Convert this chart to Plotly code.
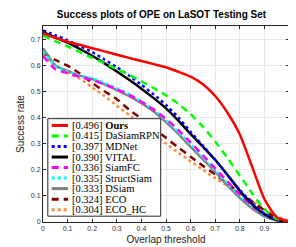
import plotly.graph_objects as go

thresholds = [0, 0.05, 0.1, 0.15, 0.2, 0.25, 0.3, 0.35, 0.4, 0.45, 0.5,
              0.55, 0.6, 0.65, 0.7, 0.75, 0.8, 0.85, 0.9, 0.95, 1.0]

tracker_names = ["Ours", "DaSiamRPN", "MDNet", "VITAL", "SiamFC",
                 "StructSiam", "DSiam", "ECO", "ECO_HC"]
auc_scores = [0.496, 0.415, 0.397, 0.390, 0.336, 0.335, 0.333, 0.324, 0.304]

ours = [0.722, 0.705, 0.690, 0.678, 0.665, 0.653, 0.640, 0.628, 0.616, 0.604, 0.592,
        0.575, 0.556, 0.527, 0.482, 0.418, 0.335, 0.212, 0.088, 0.018, 0.002]
dasiamrpn = [0.713, 0.692, 0.672, 0.650, 0.628, 0.607, 0.585, 0.563, 0.538, 0.512, 0.485,
             0.452, 0.413, 0.365, 0.308, 0.245, 0.178, 0.110, 0.048, 0.012, 0.0]
mdnet = [0.733, 0.715, 0.695, 0.673, 0.650, 0.622, 0.592, 0.560, 0.525, 0.488, 0.448,
         0.400, 0.345, 0.292, 0.238, 0.180, 0.122, 0.072, 0.032, 0.008, 0.0]
vital = [0.726, 0.706, 0.686, 0.662, 0.636, 0.607, 0.576, 0.544, 0.510, 0.474, 0.435,
         0.388, 0.337, 0.288, 0.238, 0.180, 0.120, 0.068, 0.030, 0.008, 0.0]
siamfc = [0.635, 0.585, 0.570, 0.555, 0.543, 0.527, 0.508, 0.486, 0.460, 0.430, 0.395,
          0.352, 0.305, 0.255, 0.205, 0.155, 0.105, 0.062, 0.030, 0.008, 0.0]
structsiam = [0.652, 0.598, 0.575, 0.560, 0.550, 0.532, 0.512, 0.489, 0.462, 0.430, 0.390,
              0.345, 0.297, 0.248, 0.198, 0.148, 0.100, 0.058, 0.027, 0.007, 0.0]
dsiam = [0.665, 0.600, 0.578, 0.560, 0.547, 0.527, 0.505, 0.482, 0.455, 0.423, 0.382,
         0.337, 0.288, 0.240, 0.192, 0.140, 0.092, 0.052, 0.022, 0.006, 0.0]
eco = [0.648, 0.620, 0.598, 0.568, 0.532, 0.500, 0.470, 0.430, 0.395, 0.358, 0.322,
       0.285, 0.250, 0.215, 0.182, 0.147, 0.112, 0.078, 0.045, 0.015, 0.002]
eco_hc = [0.640, 0.598, 0.572, 0.548, 0.515, 0.482, 0.445, 0.410, 0.375, 0.335, 0.300,
          0.265, 0.232, 0.200, 0.168, 0.138, 0.108, 0.080, 0.050, 0.022, 0.004]

series = [ours, dasiamrpn, mdnet, vital, siamfc, structsiam, dsiam, eco, eco_hc]

x_tick_vals = [0, 0.1, 0.2, 0.3, 0.4, 0.5, 0.6, 0.7, 0.8, 0.9, 1.0]
x_tick_text = ["0", "0.1", "0.2", "0.3", "0.4", "0.5", "0.6", "0.7", "0.8", "0.9", "1"]
y_tick_vals = [0, 0.1, 0.2, 0.3, 0.4, 0.5, 0.6, 0.7]
y_tick_text = ["0", "0.1", "0.2", "0.3", "0.4", "0.5", "0.6", "0.7"]

# styles
colors = ["#ff0000", "#00ff00", "#0000ff", "#000000", "#ff00ff",
          "#00ffff", "#808080", "#800000", "#ff8a3d"]
dashes = ["solid", "7px,5px", "3px,3px", "solid", "7px,5px",
          "3px,3px", "solid", "7px,5px", "3px,3px"]
LW = 2.5

fig = go.Figure()
for i in reversed(range(len(series))):
    fig.add_trace(go.Scatter(
        x=thresholds, y=series[i], mode="lines",
        line=dict(color=colors[i], width=LW, dash=dashes[i], shape="spline", smoothing=0.6),
        name=f"[{auc_scores[i]:.3f}] {tracker_names[i]}", showlegend=False,
        hoverinfo="skip"))

# plot area geometry (pixels) for manual MATLAB-style legend
W, H = 296, 247
L, R, T, B = 26, 15, 18, 27
pw, ph = W - L - R, H - T - B

def px_to_paper_x(px):
    return (px - L) / pw

def py_to_paper_y(py):
    return (H - B - py) / ph

shapes = []
annotations = []
# legend box
shapes.append(dict(type="rect", xref="paper", yref="paper",
                   x0=px_to_paper_x(31), x1=px_to_paper_x(148),
                   y0=py_to_paper_y(214), y1=py_to_paper_y(113.5),
                   line=dict(color="#262626", width=1), fillcolor="white", layer="above"))
for i, name in enumerate(tracker_names):
    yy = py_to_paper_y(120.5 + i * 10.85)
    shapes.append(dict(type="line", xref="paper", yref="paper",
                       x0=px_to_paper_x(35), x1=px_to_paper_x(52), y0=yy, y1=yy,
                       line=dict(color=colors[i], width=LW + 0.5, dash=dashes[i]), layer="above"))
    label = f"[{auc_scores[i]:.3f}] " + (f"<b>{name}</b>" if i == 0 else name)
    annotations.append(dict(xref="paper", yref="paper", x=px_to_paper_x(53.5), y=yy,
                            text=label, showarrow=False, xanchor="left", yanchor="middle",
                            font=dict(family="Liberation Serif", size=10.5, color="#000")))

fig.update_layout(
    width=W, height=H,
    margin=dict(l=L, r=R, t=T, b=B, pad=0),
    paper_bgcolor="white", plot_bgcolor="white",
    title=dict(text="<b>Success plots of OPE on LaSOT Testing Set</b>",
               x=(L + pw / 2) / W, xanchor="center", y=1 - 3 / H, yanchor="top",
               font=dict(family="Liberation Sans", size=10, color="#000")),
    xaxis=dict(range=[0, 1], tickvals=x_tick_vals, ticktext=x_tick_text,
               showgrid=True, gridcolor="#e8e8e8", gridwidth=1, zeroline=False,
               showline=True, linecolor="#262626", linewidth=1, mirror="ticks",
               ticks="inside", ticklen=3, tickcolor="#262626",
               tickfont=dict(family="Liberation Sans", size=7, color="#333"),
               title=dict(text="Overlap threshold", standoff=4,
                          font=dict(family="Liberation Sans", size=10, color="#222"))),
    yaxis=dict(range=[0, 0.75], tickvals=y_tick_vals, ticktext=y_tick_text,
               showgrid=True, gridcolor="#e8e8e8", gridwidth=1, zeroline=False,
               showline=True, linecolor="#262626", linewidth=1, mirror="ticks",
               ticks="inside", ticklen=3, tickcolor="#262626",
               tickfont=dict(family="Liberation Sans", size=7, color="#333"),
               title=dict(text="Success rate", standoff=4,
                          font=dict(family="Liberation Sans", size=10, color="#222"))),
    shapes=shapes, annotations=annotations,
)

fig.write_html("out.html")
